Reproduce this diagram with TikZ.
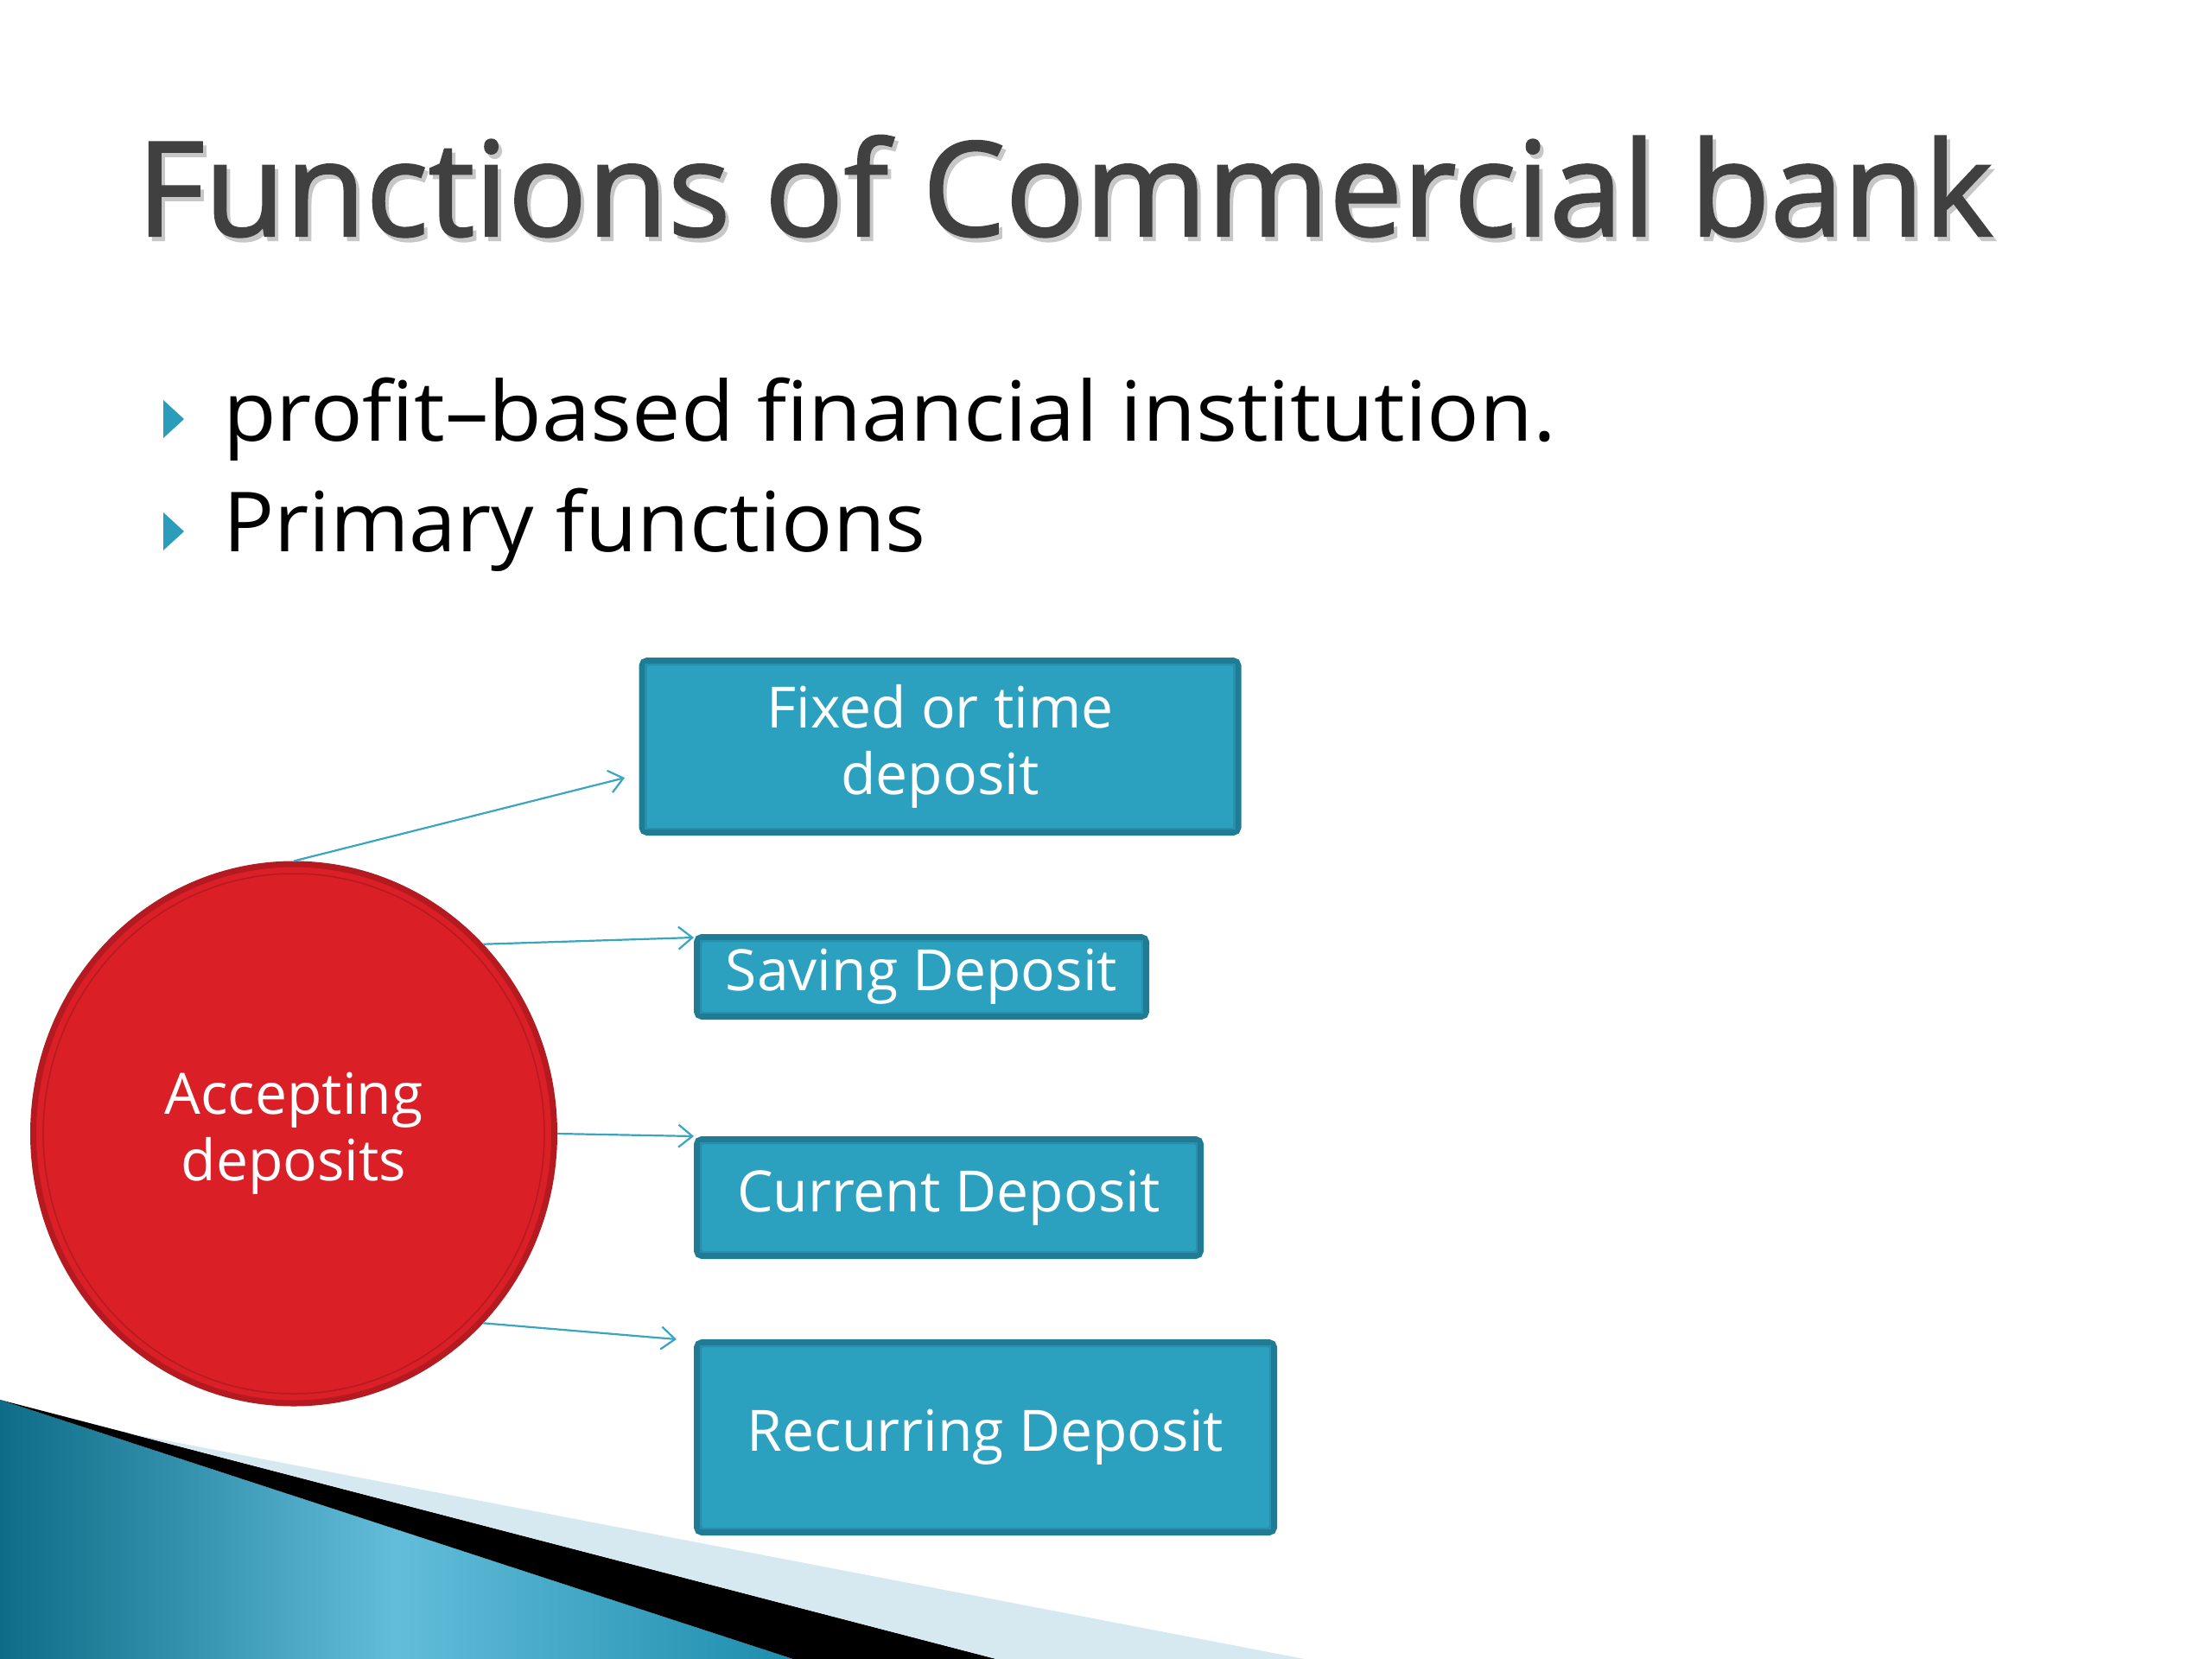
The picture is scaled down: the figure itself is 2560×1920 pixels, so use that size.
\documentclass[tikz,border=0pt]{standalone}
\usepackage{fontspec}
\setmainfont{Open Sans}
\newfontfamily\titlefont[FakeBold=1.5]{Open Sans}
\usetikzlibrary{arrows.meta,shapes.geometric,calc}
\definecolor{boxfill}{HTML}{2CA1BF}
\definecolor{boxdark}{HTML}{1F7C94}
\definecolor{boxline}{HTML}{2790AC}
\definecolor{circfill}{HTML}{DA1F27}
\definecolor{circdark}{HTML}{B51A21}
\definecolor{arrowc}{HTML}{3AA5C3}
\definecolor{titlec}{HTML}{404040}
\definecolor{bullc}{HTML}{2A9DBB}
\definecolor{bandlight}{HTML}{D6E9F1}
\definecolor{tealdark}{HTML}{0D6C87}
\definecolor{tealmid}{HTML}{1E8DAD}
\definecolor{teallight}{HTML}{62BDDA}
\begin{document}
\begin{tikzpicture}[x=1pt,y=-1pt,
  dbox/.style={rectangle, fill=boxfill, draw=boxdark, line width=9pt, rounded corners=5pt,
    text=white, font=\fontsize{66}{77}\selectfont, align=center, inner sep=0pt},
  inset/.style={draw=boxline, line width=2.5pt},
  link/.style={draw=arrowc, line width=2.2pt, -{Straight Barb[length=16pt,width=26pt,line width=2.2pt]}},
  bigtext/.style={anchor=base west, inner sep=0pt}
]
\path[use as bounding box, fill=white] (0,0) rectangle (2560,1920);

% bottom-left decoration
\shade[left color=tealdark, right color=tealmid, middle color=teallight]
  (0,1620) -- (918,1920) -- (0,1920) -- cycle;
\fill[black] (0,1620) -- (1153,1920) -- (918,1920) -- cycle;
\fill[bandlight] (150,1659) -- (1510,1920) -- (1153,1920) -- cycle;

% title
\node[bigtext, font=\titlefont\fontsize{152}{180}\selectfont, text=black!22] (titleshadow) at (162,278) {Functions of Commercial bank};
\node[bigtext, font=\titlefont\fontsize{152}{180}\selectfont, text=titlec] (title) at (158,273) {Functions of Commercial bank};

% bullets
\fill[bullc] (189,463) -- (213,485) -- (189,507) -- cycle;
\fill[bullc] (189,593) -- (213,615) -- (189,637) -- cycle;
\node[bigtext, font=\fontsize{96}{110}\selectfont] (b1) at (258,510) {\scalebox{1.05}[1]{profit–based financial institution.}};
\node[bigtext, font=\fontsize{96}{110}\selectfont] (b2) at (258,638) {\scalebox{1.025}[1]{Primary functions}};

% circle
\node[ellipse, minimum width=603pt, minimum height=624pt, fill=circfill, draw=circdark, line width=7pt,
  text=white, font=\fontsize{66}{77}\selectfont, align=center, inner sep=0pt] (acc) at (340,1312) {Accepting\\deposits};
\draw[circdark, line width=1.5pt] (acc.center) ellipse [x radius=290, y radius=301];

% boxes
\node[dbox, minimum width=688pt, minimum height=197pt] (fixed) at (1088,864) {Fixed or time\\deposit};
\node[dbox, minimum width=518pt, minimum height=90pt] (saving) at (1066.5,1130.5) {Saving Deposit};
\node[dbox, minimum width=581pt, minimum height=133pt] (current) at (1098,1386) {Current Deposit};
\node[dbox, minimum width=666pt, minimum height=218pt] (recur) at (1140.5,1663.5) {Recurring Deposit};
\foreach \b in {fixed,saving,current,recur}{
  \draw[inset] ($(\b.north west)+(8,8)$) rectangle ($(\b.south east)+(-8,-8)$);
}

% connectors
\draw[link, shorten >=17pt] (acc.90) -- ([yshift=-32pt]fixed.west);
\draw[link] (acc.45) -- ([yshift=-4pt]saving.north west);
\draw[link] (acc.0) -- (current.north west);
\draw[link] (acc.-45) -- ([xshift=-20pt]recur.north west);
\end{tikzpicture}
\end{document}
